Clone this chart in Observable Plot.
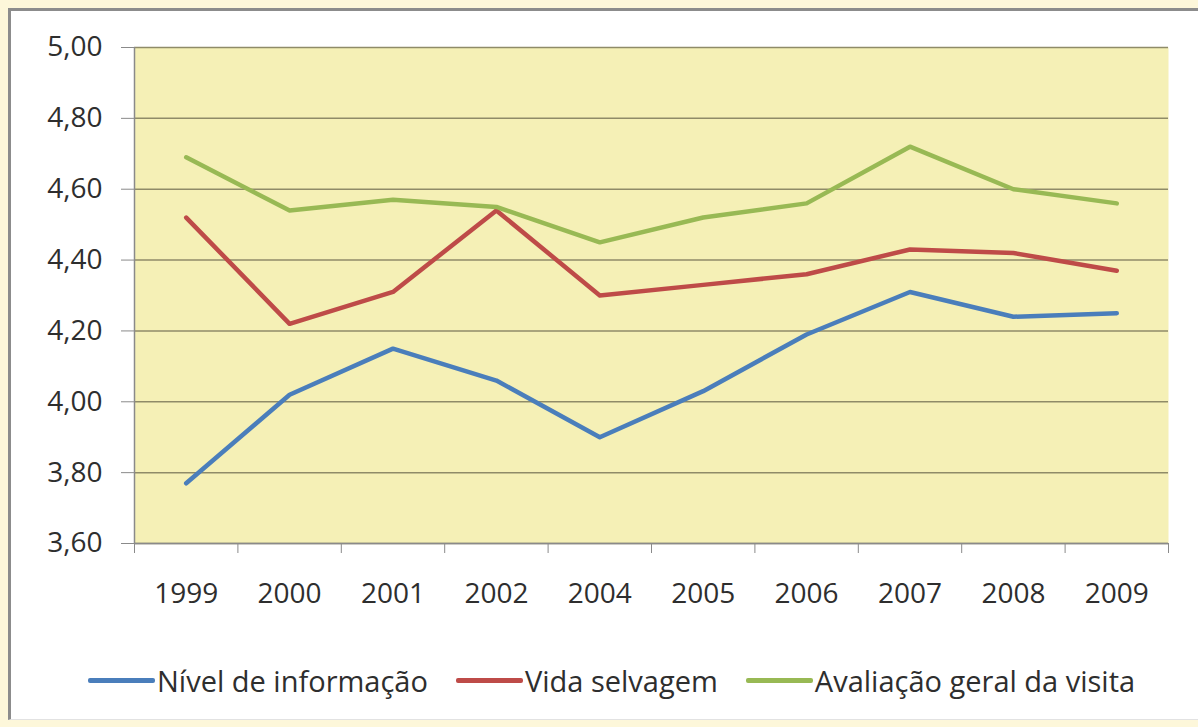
<!DOCTYPE html>
<html>
<head>
<meta charset="utf-8">
<script src="https://cdn.jsdelivr.net/npm/d3@7"></script>
<script src="https://cdn.jsdelivr.net/npm/@observablehq/plot@0.6"></script>
<style>
  html, body { margin: 0; padding: 0; background: #FDF7DA; width: 1198px; height: 727px; overflow: hidden; }
  #frame { position: absolute; left: 8px; top: 8px; width: 1200px; height: 708px; background: #fff;
           border-left: 3px solid #8c8c8c; border-top: 3px solid #8c8c8c; border-bottom: 1px solid #e2e2e2; }
  #chart { position: absolute; left: 0; top: 0; width: 1198px; font-family: "Open Sans", sans-serif; }
  #legend { display: flex; align-items: center; height: 40px; padding-left: 88px; font-size: 29px; color: #2e2e2e; }
  .item { display: flex; align-items: center; margin-right: 28px; }
  .sw { width: 67px; height: 5px; border-radius: 2px; margin-right: 2px; }
</style>
</head>
<body>
<div id="frame"></div>
<div id="chart"></div>
<script>
const years = ["1999", "2000", "2001", "2002", "2004", "2005", "2006", "2007", "2008", "2009"];
const seriesNames = ["Nível de informação", "Vida selvagem", "Avaliação geral da visita"];
const seriesColors = ["#4A7EBB", "#BE4B48", "#98B954"];
const nivelInformacao = [3.77, 4.02, 4.15, 4.06, 3.90, 4.03, 4.19, 4.31, 4.24, 4.25];
const vidaSelvagem    = [4.52, 4.22, 4.31, 4.54, 4.30, 4.33, 4.36, 4.43, 4.42, 4.37];
const avaliacaoGeral  = [4.69, 4.54, 4.57, 4.55, 4.45, 4.52, 4.56, 4.72, 4.60, 4.56];
const yTicks = [3.6, 3.8, 4.0, 4.2, 4.4, 4.6, 4.8, 5.0];

const allSeries = [nivelInformacao, vidaSelvagem, avaliacaoGeral];
const data = allSeries.flatMap((vals, s) =>
  vals.map((v, i) => ({ series: seriesNames[s], i, value: v })));
const idx = years.map((_, i) => i);
const bounds = d3.range(-0.5, years.length, 1);
const fmt = d => d.toFixed(2).replace(".", ",");

const plot = Plot.plot({
  width: 1198,
  height: 660,
  marginLeft: 134,
  marginRight: 30,
  marginTop: 47,
  marginBottom: 117,
  style: { background: "transparent", fontFamily: "'Open Sans', sans-serif", fontSize: "28px", color: "#2e2e2e" },
  x: { type: "linear", domain: [-0.5, years.length - 0.5] },
  y: { domain: [3.6, 5.0] },
  color: { domain: seriesNames, range: seriesColors },
  marks: [
    Plot.frame({ fill: "#F5F0B6", stroke: null }),
    Plot.gridY(yTicks, { stroke: "#8f8b68", strokeOpacity: 1, strokeWidth: 1.5 }),
    Plot.ruleX([-0.5], { stroke: "#8a8a8a", strokeWidth: 1.5 }),
    Plot.ruleY([3.6], { stroke: "#8a8a8a", strokeWidth: 1.5 }),
    Plot.axisY(yTicks, { tickFormat: fmt, tickSize: 13, tickPadding: 19, stroke: "#8a8a8a", fill: "#2e2e2e", fontSize: 28, label: null }),
    Plot.axisX(bounds, { tickFormat: () => "", tickSize: 10, stroke: "#8a8a8a", label: null }),
    Plot.axisX(idx, { tickFormat: i => years[i], tickSize: 0, tickPadding: 40, fill: "#2e2e2e", fontSize: 28, label: null }),
    Plot.line(data, { x: "i", y: "value", z: "series", stroke: "series", strokeWidth: 4.5, strokeLinejoin: "round", strokeLinecap: "round" })
  ]
});

const root = document.getElementById("chart");
root.appendChild(plot);
const legend = document.createElement("div");
legend.id = "legend";
seriesNames.forEach((name, s) => {
  const item = document.createElement("div");
  item.className = "item";
  const sw = document.createElement("span");
  sw.className = "sw";
  sw.style.background = seriesColors[s];
  const t = document.createElement("span");
  t.textContent = name;
  item.appendChild(sw);
  item.appendChild(t);
  legend.appendChild(item);
});
root.appendChild(legend);
</script>
</body>
</html>
